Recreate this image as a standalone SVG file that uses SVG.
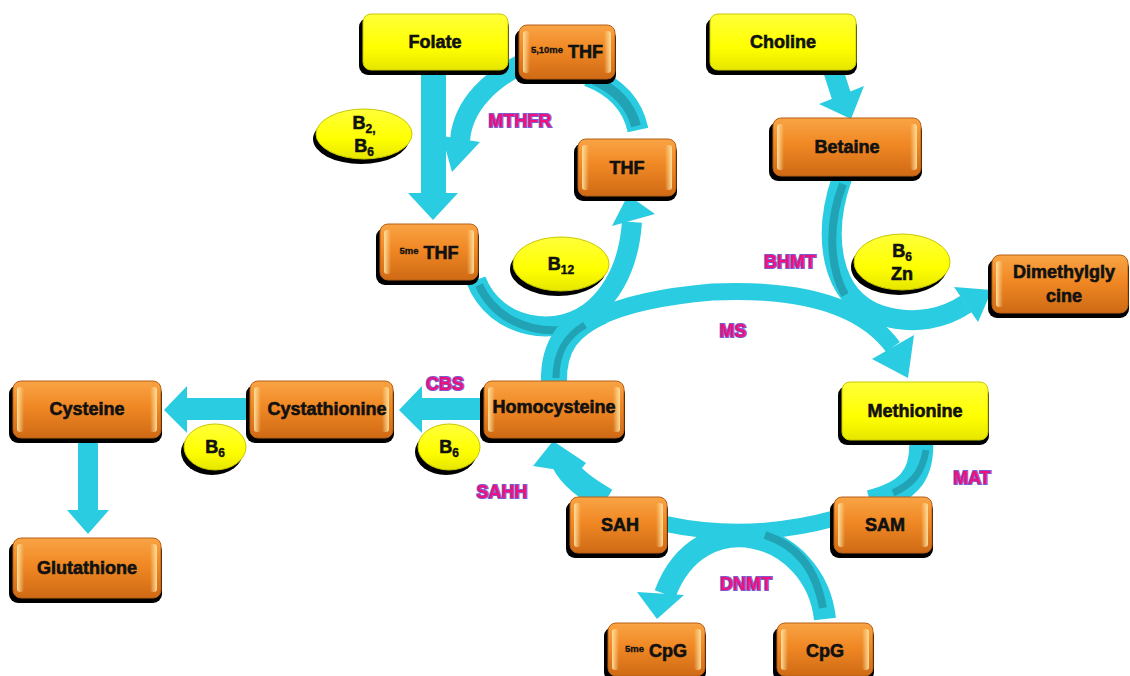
<svg xmlns="http://www.w3.org/2000/svg" width="1130" height="676" viewBox="0 0 1130 676">
<defs>
<linearGradient id="gOr" x1="0" y1="0" x2="0" y2="1">
<stop offset="0" stop-color="#F9A445"/><stop offset="0.45" stop-color="#F08824"/><stop offset="1" stop-color="#CF6A15"/>
</linearGradient>
<linearGradient id="gYl" x1="0" y1="0" x2="0" y2="1">
<stop offset="0" stop-color="#FFFF3A"/><stop offset="0.6" stop-color="#FFFF00"/><stop offset="1" stop-color="#E6E600"/>
</linearGradient>
<linearGradient id="hlL" x1="0" y1="0" x2="1" y2="0">
<stop offset="0" stop-color="#FFE2A0" stop-opacity="0.95"/><stop offset="1" stop-color="#FFE2A0" stop-opacity="0"/>
</linearGradient>
<linearGradient id="hlR" x1="1" y1="0" x2="0" y2="0">
<stop offset="0" stop-color="#FFE2A0" stop-opacity="0.95"/><stop offset="1" stop-color="#FFE2A0" stop-opacity="0"/>
</linearGradient>
<style>
.sh{fill:#000}
.or{fill:url(#gOr);stroke:#B85F16;stroke-width:1}
.yl{fill:url(#gYl);stroke:#C8C800;stroke-width:1}
.hl{fill:url(#hlL)}
.hr{fill:url(#hlR)}
.t{font-family:"Liberation Sans",Arial,sans-serif;font-weight:bold;font-size:18px;fill:#111;stroke:#111;stroke-width:0.6;text-anchor:middle}
.sm{font-size:9.5px;stroke-width:0.3}
.sb{font-size:12px;stroke-width:0.4}
.enz{font-family:"Liberation Sans",Arial,sans-serif;font-weight:bold;font-size:18px;fill:#F0127C;stroke:#7A5BD0;stroke-width:2;paint-order:stroke;text-anchor:middle}
.ar{fill:none;stroke:#29CCE0}
.ah{fill:#29CCE0}
.dk{fill:none;stroke:#22A3B5}
</style>
</defs>
<rect width="1130" height="676" fill="#FFFFFF"/>

<g id="connectors">
<!-- Folate -> 5me THF -->
<rect class="ah" x="421" y="70" width="25" height="124"/>
<polygon class="ah" points="408,193 458,193 433,220"/>
<!-- 5,10me THF -> 5me THF (MTHFR) -->
<path class="ar" d="M 526 62 C 492 78, 463 104, 460 140" stroke-width="20"/>
<polygon class="ah" points="442,136 480,142 452,172"/>
<!-- THF -> 5,10me THF -->
<path class="ar" d="M 588 76 Q 630 92 638 130" stroke-width="21"/>
<path class="dk" d="M 594 80 Q 628 95 636 126" stroke-width="10"/>
<!-- 5me THF -> THF (B12) -->
<path class="ar" d="M 476 280 C 495 330, 560 340, 595 308 C 622 283, 630 250, 632 222" stroke-width="20"/>
<path class="dk" d="M 479 285 C 495 320, 530 332, 560 330" stroke-width="8"/>
<polygon class="ah" points="612,226 655,214 628,195"/>
<!-- Homocysteine -> Methionine (MS) -->
<path class="ar" d="M 555 382 C 553 322, 620 300, 712 292 C 800 288, 862 305, 893 347" stroke-width="17"/>
<path class="ar" d="M 554 382 C 553 345, 570 325, 602 311" stroke-width="26"/>
<path class="dk" d="M 556 378 C 556 350, 568 335, 585 325" stroke-width="7"/>
<polygon class="ah" points="872,359 914,335 908,378"/>
<!-- Choline -> Betaine -->
<path class="ar" d="M 833 70 L 842 98" stroke-width="20"/>
<polygon class="ah" points="819,104 864,86 851,119"/>
<!-- Betaine -> Dimethylglycine (BHMT) -->
<path class="ar" d="M 842 178 C 822 235, 830 298, 880 315 C 915 326, 945 318, 966 304" stroke-width="20"/>
<path class="dk" d="M 843 184 C 827 225, 830 268, 845 295" stroke-width="8"/>
<polygon class="ah" points="954,287 978,322 992,290"/>
<!-- Homocysteine -> Cystathionine (CBS) -->
<rect class="ah" x="420" y="398" width="66" height="22"/>
<polygon class="ah" points="422,386 422,433 399,410"/>
<!-- Cystathionine -> Cysteine -->
<rect class="ah" x="185" y="398" width="66" height="22"/>
<polygon class="ah" points="187,386 187,433 164,410"/>
<!-- Cysteine -> Glutathione -->
<rect class="ah" x="78" y="442" width="20" height="70"/>
<polygon class="ah" points="67,510 109,510 88,534"/>
<!-- Methionine -> SAM (MAT) -->
<path class="ar" d="M 921 438 C 924 478, 905 493, 870 502" stroke-width="24"/>
<path class="dk" d="M 926 450 C 922 475, 910 485, 893 493" stroke-width="7"/>
<!-- SAM -> SAH -->
<path class="ar" d="M 836 518 Q 750 542 666 524" stroke-width="16"/>
<!-- SAH -> Homocysteine (SAHH) -->
<path class="ar" d="M 606 500 C 590 490, 572 480, 563 462" stroke-width="24"/>
<polygon class="ah" points="533,466 553,441 586,463 578,473"/>
<!-- CpG -> 5me CpG (DNMT) -->
<path class="ar" d="M 825 619 C 815 530, 700 500, 665 594" stroke-width="22"/>
<path class="dk" d="M 823 608 C 815 565, 795 545, 765 535" stroke-width="8"/>
<polygon class="ah" points="637,592 684,595 657,619"/>

<text class="enz" x="520" y="127">MTHFR</text>
<text class="enz" x="733" y="337">MS</text>
<text class="enz" x="790" y="268">BHMT</text>
<text class="enz" x="445" y="390">CBS</text>
<text class="enz" x="502" y="498">SAHH</text>
<text class="enz" x="972" y="484">MAT</text>
<text class="enz" x="746" y="590">DNMT</text>
</g>

<g id="folate">
<rect class="sh" x="359" y="18" width="150" height="57" rx="9"/>
<rect class="yl" x="363" y="14" width="145" height="56" rx="8"/>
<text class="t" x="435" y="48">Folate</text>
</g>
<g id="thf510">
<rect class="sh" x="515" y="29" width="101" height="55" rx="9"/>
<rect class="or" x="519" y="25" width="96" height="54" rx="8"/>
<rect class="hl" x="523" y="31" width="7" height="42" rx="3"/>
<rect class="hr" x="604" y="31" width="7" height="42" rx="3"/>
<text class="t" x="567" y="58"><tspan class="sm" dy="-5">5,10me</tspan><tspan dy="5"> THF</tspan></text>
</g>
<g id="choline">
<rect class="sh" x="706" y="18" width="151" height="57" rx="9"/>
<rect class="yl" x="710" y="14" width="146" height="56" rx="8"/>
<text class="t" x="783" y="48">Choline</text>
</g>
<g id="betaine">
<rect class="sh" x="769" y="122" width="153" height="59" rx="9"/>
<rect class="or" x="773" y="118" width="148" height="58" rx="8"/>
<rect class="hl" x="777" y="124" width="7" height="46" rx="3"/>
<rect class="hr" x="910" y="124" width="7" height="46" rx="3"/>
<text class="t" x="847" y="153">Betaine</text>
</g>
<g id="thf">
<rect class="sh" x="574" y="143" width="103" height="58" rx="9"/>
<rect class="or" x="578" y="139" width="98" height="57" rx="8"/>
<rect class="hl" x="582" y="145" width="7" height="45" rx="3"/>
<rect class="hr" x="665" y="145" width="7" height="45" rx="3"/>
<text class="t" x="627" y="174">THF</text>
</g>
<g id="thf5me">
<rect class="sh" x="376" y="228" width="103" height="57" rx="9"/>
<rect class="or" x="380" y="224" width="98" height="56" rx="8"/>
<rect class="hl" x="384" y="230" width="7" height="44" rx="3"/>
<rect class="hr" x="467" y="230" width="7" height="44" rx="3"/>
<text class="t" x="429" y="259"><tspan class="sm" dy="-5">5me</tspan><tspan dy="5"> THF</tspan></text>
</g>
<g id="dmg">
<rect class="sh" x="988" y="259" width="141" height="59" rx="9"/>
<rect class="or" x="992" y="255" width="136" height="58" rx="8"/>
<rect class="hl" x="996" y="261" width="7" height="46" rx="3"/>
<text class="t" x="1064" y="278">Dimethylgly</text>
<text class="t" x="1064" y="302">cine</text>
</g>
<g id="cysteine">
<rect class="sh" x="9" y="385" width="153" height="58" rx="9"/>
<rect class="or" x="13" y="381" width="148" height="57" rx="8"/>
<rect class="hl" x="17" y="387" width="7" height="45" rx="3"/>
<rect class="hr" x="150" y="387" width="7" height="45" rx="3"/>
<text class="t" x="87" y="415">Cysteine</text>
</g>
<g id="cystathionine">
<rect class="sh" x="246" y="385" width="148" height="58" rx="9"/>
<rect class="or" x="250" y="381" width="143" height="57" rx="8"/>
<rect class="hl" x="254" y="387" width="7" height="45" rx="3"/>
<rect class="hr" x="382" y="387" width="7" height="45" rx="3"/>
<text class="t" x="327" y="415">Cystathionine</text>
</g>
<g id="homocysteine">
<rect class="sh" x="480" y="385" width="145" height="58" rx="9"/>
<rect class="or" x="484" y="381" width="140" height="57" rx="8"/>
<rect class="hl" x="488" y="387" width="7" height="45" rx="3"/>
<rect class="hr" x="613" y="387" width="7" height="45" rx="3"/>
<text class="t" x="554" y="413">Homocysteine</text>
</g>
<g id="methionine">
<rect class="sh" x="838" y="386" width="151" height="59" rx="9"/>
<rect class="yl" x="842" y="382" width="146" height="58" rx="8"/>
<text class="t" x="915" y="417">Methionine</text>
</g>
<g id="sah">
<rect class="sh" x="566" y="501" width="102" height="57" rx="9"/>
<rect class="or" x="570" y="497" width="97" height="56" rx="8"/>
<rect class="hl" x="574" y="503" width="7" height="44" rx="3"/>
<rect class="hr" x="656" y="503" width="7" height="44" rx="3"/>
<text class="t" x="620" y="531">SAH</text>
</g>
<g id="sam">
<rect class="sh" x="830" y="501" width="103" height="57" rx="9"/>
<rect class="or" x="834" y="497" width="98" height="56" rx="8"/>
<rect class="hl" x="838" y="503" width="7" height="44" rx="3"/>
<rect class="hr" x="921" y="503" width="7" height="44" rx="3"/>
<text class="t" x="885" y="531">SAM</text>
</g>
<g id="glutathione">
<rect class="sh" x="9" y="542" width="153" height="61" rx="9"/>
<rect class="or" x="13" y="538" width="148" height="60" rx="8"/>
<rect class="hl" x="17" y="544" width="7" height="48" rx="3"/>
<rect class="hr" x="150" y="544" width="7" height="48" rx="3"/>
<text class="t" x="87" y="574">Glutathione</text>
</g>
<g id="cpg5me">
<rect class="sh" x="604" y="627" width="102" height="54" rx="9"/>
<rect class="or" x="608" y="623" width="97" height="53" rx="8"/>
<rect class="hl" x="612" y="629" width="7" height="41" rx="3"/>
<rect class="hr" x="694" y="629" width="7" height="41" rx="3"/>
<text class="t" x="656" y="657"><tspan class="sm" dy="-5">5me</tspan><tspan dy="5"> CpG</tspan></text>
</g>
<g id="cpg">
<rect class="sh" x="773" y="627" width="101" height="54" rx="9"/>
<rect class="or" x="777" y="623" width="96" height="53" rx="8"/>
<rect class="hl" x="781" y="629" width="7" height="41" rx="3"/>
<rect class="hr" x="862" y="629" width="7" height="41" rx="3"/>
<text class="t" x="825" y="657">CpG</text>
</g>

<g id="cof-b2b6">
<ellipse class="sh" cx="361" cy="139" rx="48" ry="25"/>
<ellipse class="yl" cx="364" cy="134" rx="48" ry="25"/>
<text class="t" x="364" y="129">B<tspan class="sb" dy="4">2,</tspan></text>
<text class="t" x="364" y="152">B<tspan class="sb" dy="4">6</tspan></text>
</g>
<g id="cof-b12">
<ellipse class="sh" cx="558" cy="269" rx="48" ry="27"/>
<ellipse class="yl" cx="561" cy="264" rx="48" ry="27"/>
<text class="t" x="561" y="270">B<tspan class="sb" dy="4">12</tspan></text>
</g>
<g id="cof-b6zn">
<ellipse class="sh" cx="899" cy="267" rx="48" ry="28"/>
<ellipse class="yl" cx="902" cy="262" rx="48" ry="28"/>
<text class="t" x="902" y="257">B<tspan class="sb" dy="4">6</tspan></text>
<text class="t" x="902" y="280">Zn</text>
</g>
<g id="cof-b6a">
<ellipse class="sh" cx="212" cy="452" rx="31" ry="23"/>
<ellipse class="yl" cx="215" cy="447" rx="31" ry="23"/>
<text class="t" x="215" y="453">B<tspan class="sb" dy="4">6</tspan></text>
</g>
<g id="cof-b6b">
<ellipse class="sh" cx="446" cy="452" rx="31" ry="23"/>
<ellipse class="yl" cx="449" cy="447" rx="31" ry="23"/>
<text class="t" x="449" y="453">B<tspan class="sb" dy="4">6</tspan></text>
</g>
</svg>
